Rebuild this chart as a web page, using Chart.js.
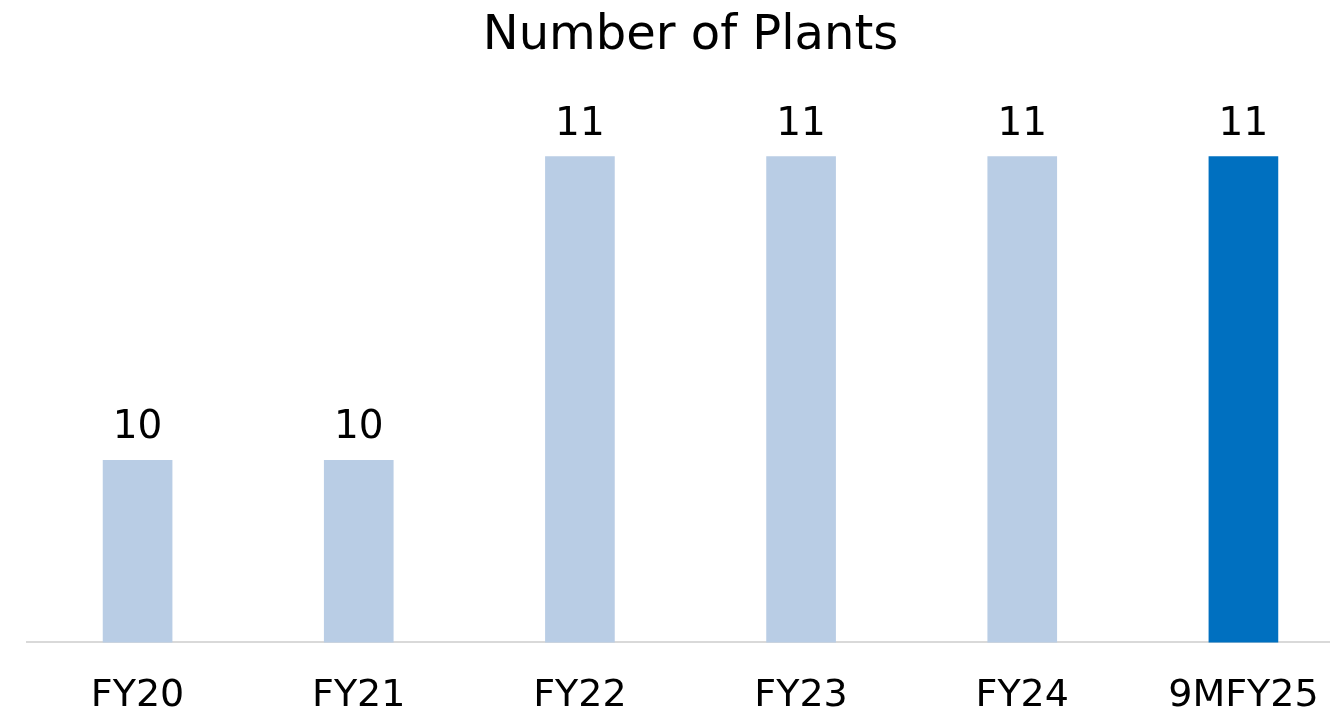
<!DOCTYPE html>
<html>
<head>
<meta charset="utf-8">
<script src="https://cdn.jsdelivr.net/npm/chart.js@4"></script>
<style>
  html, body { margin: 0; padding: 0; background: #fff; overflow: hidden; }
  #wrap { width: 1380px; height: 718px; overflow: hidden; }
</style>
</head>
<body>
<div id="wrap"><canvas id="plantsChart" width="1380" height="750"></canvas></div>
<script>
// 연도별 공장 수
const categories = ['FY20', 'FY21', 'FY22', 'FY23', 'FY24', '9MFY25'];
const plantCounts = [10, 10, 11, 11, 11, 11];
const barColors = ['#B9CDE5', '#B9CDE5', '#B9CDE5', '#B9CDE5', '#B9CDE5', '#0070C0'];

const FONT = '"DejaVu Sans", sans-serif';

// 막대 위 값 표시
const valueLabels = {
    id: 'valueLabels',
    afterDatasetsDraw(chart) {
        const ctx = chart.ctx;
        const meta = chart.getDatasetMeta(0);
        ctx.save();
        ctx.font = '39px ' + FONT;
        ctx.fillStyle = '#000';
        ctx.textAlign = 'center';
        ctx.textBaseline = 'alphabetic';
        meta.data.forEach((bar, i) => {
            ctx.fillText(String(plantCounts[i]), bar.x, bar.y - 22);
        });
        ctx.restore();
    }
};

const ctx = document.getElementById('plantsChart').getContext('2d');
new Chart(ctx, {
    type: 'bar',
    data: {
        labels: categories,
        datasets: [{
            data: plantCounts,
            backgroundColor: barColors,
            barThickness: 69
        }]
    },
    options: {
        responsive: false,
        animation: false,
        layout: { padding: { left: 27, right: 26, top: 0, bottom: 0 } },
        plugins: {
            legend: { display: false },
            tooltip: { enabled: false },
            title: {
                display: true,
                text: 'Number of Plants',
                color: '#000',
                font: { family: FONT, size: 48, weight: 'normal', lineHeight: 1.2 },
                padding: { top: 8, bottom: 0 }
            }
        },
        scales: {
            x: {
                grid: { display: false, drawTicks: false },
                border: { display: true, color: '#D9D9D9', width: 2 },
                ticks: {
                    color: '#000',
                    padding: 31,
                    font: { family: FONT, size: 38 }
                }
            },
            y: {
                display: false,
                min: 9.4,
                max: 11.3
            }
        }
    },
    plugins: [valueLabels]
});
</script>
</body>
</html>
